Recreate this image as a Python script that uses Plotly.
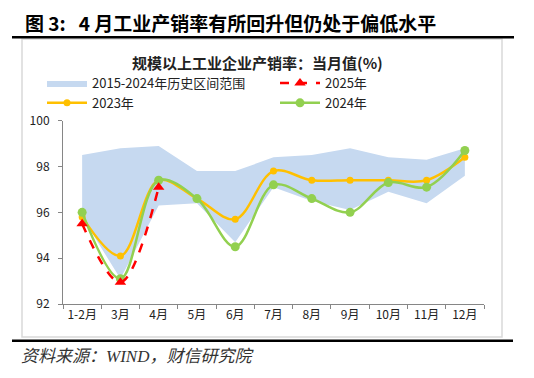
import plotly.graph_objects as go

categories = ["1-2月", "3月", "4月", "5月", "6月", "7月", "8月", "9月", "10月", "11月", "12月"]
band_upper = [98.5, 98.8, 98.9, 97.8, 97.8, 98.4, 98.5, 98.8, 98.4, 98.3, 98.8]
band_lower = [95.8, 93.1, 96.3, 96.4, 94.7, 97.1, 96.5, 96.1, 96.9, 96.4, 97.6]
y2023 = [95.8, 94.1, 97.4, 96.6, 95.7, 97.8, 97.4, 97.4, 97.4, 97.4, 98.4]
y2024 = [96.0, 93.1, 97.4, 96.6, 94.5, 97.2, 96.6, 96.0, 97.3, 97.1, 98.7]
y2025 = [95.5, 92.95, 97.1]
y_ticks = [92, 94, 96, 98, 100]

# page body has an 8px default margin: figure is drawn at (8, 8)
OFF = 8
W, H = 534 - OFF, 378 - OFF
L, R, T, B = 63, 484, 120.7, 304  # target screen pixels of plot area

def px(x):
    return (x - OFF) / W

def py(y):
    return 1 - (y - OFF) / H

CJK = "Noto Sans CJK SC"

fig = go.Figure()
fig.add_trace(go.Scatter(x=categories, y=band_lower, mode="lines", line=dict(width=0, color="rgba(0,0,0,0)"),
                         showlegend=False, hoverinfo="skip"))
fig.add_trace(go.Scatter(x=categories, y=band_upper, mode="lines", line=dict(width=0, color="#C6D9F0"),
                         fill="tonexty", fillcolor="#C6D9F0", name="2015-2024年历史区间范围", legendrank=1))
fig.add_trace(go.Scatter(x=categories, y=y2023, mode="lines+markers", name="2023年", legendrank=3,
                         line=dict(color="#FFC000", width=2.5, shape="spline", smoothing=1),
                         marker=dict(color="#FFC000", size=7)))
fig.add_trace(go.Scatter(x=categories, y=y2024, mode="lines+markers", name="2024年", legendrank=4,
                         line=dict(color="#92D050", width=2.5, shape="spline", smoothing=1),
                         marker=dict(color="#92D050", size=9)))
fig.add_trace(go.Scatter(x=categories[:len(y2025)], y=y2025, mode="lines+markers", name="2025年", legendrank=2,
                         line=dict(color="#FF0000", width=2.5, dash="dash", shape="spline", smoothing=1),
                         marker=dict(color="#FF0000", size=10, symbol="triangle-up")))

fig.update_layout(
    width=W, height=H,
    margin=dict(l=0, r=0, t=0, b=0, autoexpand=False),
    paper_bgcolor="white", plot_bgcolor="white",
    font=dict(family=CJK, size=12, color="#222222"),
    showlegend=True,
    legend=dict(orientation="h", x=px(42), y=py(68), xanchor="left", yanchor="top",
                entrywidth=178, entrywidthmode="pixels", traceorder="normal",
                font=dict(family=CJK, size=13, color="#222222"), bgcolor="rgba(0,0,0,0)",
                tracegroupgap=0, itemwidth=40),
    xaxis=dict(type="category", domain=[px(L), px(R)], showgrid=False, showline=True, linecolor="#868686",
               linewidth=1, ticks="outside", tickson="boundaries", ticklen=4, tickcolor="#868686",
               tickangle=0, automargin=False,
               tickfont=dict(family=CJK, size=12, color="#222222"), range=[-0.5, 10.5], fixedrange=True),
    yaxis=dict(range=[92, 100], domain=[py(B), py(T)], tickvals=y_ticks, showgrid=False, showline=True,
               linecolor="#868686", automargin=False,
               linewidth=1, ticks="outside", ticklen=4, tickcolor="#868686", zeroline=False,
               tickfont=dict(family=CJK, size=12, color="#222222"), ticklabelstandoff=6),
)

shapes = [
    dict(type="rect", xref="paper", yref="paper", x0=px(22), x1=px(502), y0=py(337), y1=py(39),
         line=dict(color="#D9D9D9", width=1.5), fillcolor="rgba(0,0,0,0)", layer="below"),
    dict(type="line", xref="paper", yref="paper", x0=px(12), x1=px(514), y0=py(37.3), y1=py(37.3),
         line=dict(color="black", width=2.5)),
    dict(type="line", xref="paper", yref="paper", x0=px(12), x1=px(513), y0=py(340.7), y1=py(340.7),
         line=dict(color="black", width=2.5)),
]
fig.update_layout(shapes=shapes)

annotations = [
    dict(text="图 3:   4 月工业产销率有所回升但仍处于偏低水平", x=px(23), y=py(22), xref="paper", yref="paper",
         xanchor="left", yanchor="middle", showarrow=False,
         font=dict(family=CJK, size=19, color="black", weight="bold")),
    dict(text="<b>规模以上工业企业产销率：当月值(%)</b>", x=px(257), y=py(62), xref="paper", yref="paper",
         xanchor="center", yanchor="middle", showarrow=False,
         font=dict(family=CJK, size=15, color="#222222")),
    dict(text="<i>资料来源：WIND，财信研究院</i>", x=px(19), y=py(356), xref="paper", yref="paper",
         xanchor="left", yanchor="middle", showarrow=False,
         font=dict(family="Liberation Serif, " + CJK, size=17, color="#333333")),
]
fig.update_layout(annotations=annotations)

fig.write_html("out.html")
